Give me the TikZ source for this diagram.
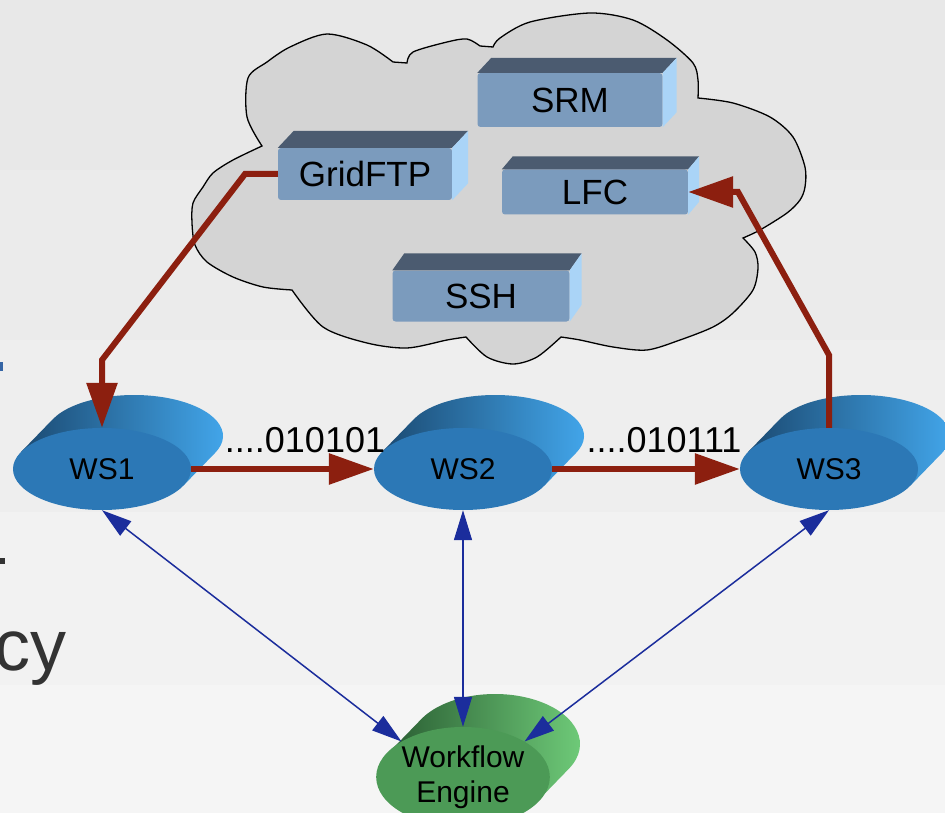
\documentclass[tikz,border=0pt]{standalone}
\usepackage{fontspec}
\setmainfont{Liberation Sans}
\usetikzlibrary{shapes.geometric,arrows.meta,calc}

\definecolor{stripea}{HTML}{E8E8E8}
\definecolor{stripeb}{HTML}{EBEBEB}
\definecolor{stripec}{HTML}{EEEEEE}
\definecolor{striped}{HTML}{F2F2F2}
\definecolor{stripee}{HTML}{F5F5F5}
\definecolor{cloudgray}{HTML}{D4D4D4}
\definecolor{slabfront}{HTML}{7B9BBD}
\definecolor{slabtop}{HTML}{4B5B70}
\definecolor{slabside}{HTML}{AAD4F7}
\definecolor{wsfront}{HTML}{2C78B6}
\definecolor{wsdark}{HTML}{1B4A72}
\definecolor{wslight}{HTML}{44AAF0}
\definecolor{wefront}{HTML}{4C9A56}
\definecolor{wedark}{HTML}{2A5E33}
\definecolor{welight}{HTML}{72D07C}
\definecolor{datared}{HTML}{8C1F0F}
\definecolor{callblue}{HTML}{1B2D9C}
\definecolor{slideblue}{HTML}{3565A5}
\definecolor{slidegray}{HTML}{333333}

% side of a drum: centre, x radius, y radius, dark colour, light colour
\newcommand{\drumside}[5]{%
  \pgfmathsetmacro{\tang}{atan((#3*32)/(#2*33))}%
  \shade [left color=#4, middle color=#4!75!#5, right color=#5]
    ($(#1)+(\tang+180:#2 and #3)$) -- ++(32,-33)
    arc [start angle=\tang+180, end angle=\tang+360, x radius=#2, y radius=#3]
    -- ($(#1)+(\tang:#2 and #3)$) -- cycle;
}

\begin{document}
\begin{tikzpicture}[x=1pt,y=-1pt,
  slab/.style={rectangle,rounded corners=3pt,fill=slabfront,inner sep=0pt,font=\fontsize{35}{40}\selectfont},
  drum/.style={ellipse,inner sep=0pt,font=\fontsize{30}{35}\selectfont},
  dataflow/.style={color=datared,line width=6pt,-{Triangle[length=45pt,width=30pt]}},
  control/.style={color=callblue,line width=1.5pt,{Triangle[length=30pt,width=18pt]}-{Triangle[length=30pt,width=18pt]}}]
% Page size
\useasboundingbox (0,0) rectangle (945,813);
\clip (0,0) rectangle (945,813);
% Draw background stripes
\fill [stripea] (0,0) rectangle (945,170);
\fill [stripeb] (0,170) rectangle (945,340);
\fill [stripec] (0,340) rectangle (945,512);
\fill [striped] (0,512) rectangle (945,685);
\fill [stripee] (0,685) rectangle (945,813);
% Bits of slide text at the left edge
\fill [slideblue] (0,362) rectangle (3,371);
\fill [slidegray] (0,558) rectangle (5,564);
\node [font=\fontsize{72}{80}\selectfont, text=slidegray, anchor=base east, inner sep=0pt] (cy) at (67,670) {cy};
% Draw cloud
\filldraw [fill=cloudgray, draw=black, line width=1.3pt]
  plot [smooth] coordinates {(262,146) (247,117) (248,78) (267,62) (290,47) (327,34) (367,45) (393,62)}
  -- plot [smooth] coordinates {(407,63) (413,52) (447,42) (467,39) (480,46)}
  -- plot [smooth] coordinates {(493,47) (500,38) (530,22) (590,13) (633,20) (667,40) (693,63) (698,80) (698,98)}
  -- plot [smooth] coordinates {(698,98) (733,103) (770,117) (793,137) (805,167) (805,187) (800,200) (787,213) (760,230) (743,238)}
  -- plot [smooth] coordinates {(743,238) (755,252) (758,268) (753,290) (733,313) (713,327) (680,340) (647,350) (613,347) (580,340) (561,337)}
  -- plot [smooth] coordinates {(561,337) (537,357) (513,364) (487,357) (466,337)}
  -- plot [smooth] coordinates {(466,337) (447,340) (407,348) (367,343) (323,327) (292,290)}
  -- plot [smooth] coordinates {(292,290) (263,287) (233,277) (207,262) (195,245) (192,223) (193,203) (203,187) (213,173) (233,160) (262,146)}
  -- cycle;
% Draw service slabs
\node [slab, minimum width=185pt, minimum height=54pt] (srm) at (570,100) {SRM};
\node [slab, minimum width=174pt, minimum height=52pt] (gridftp) at (365,174) {GridFTP};
\node [slab, minimum width=186pt, minimum height=45pt] (lfc) at (595,192) {LFC};
\node [slab, minimum width=177pt, minimum height=51pt] (ssh) at (481,296) {SSH};
\foreach \n/\dx/\dy in {srm/14/15,gridftp/16/17,lfc/11/13,ssh/12/17} {
  \fill [slabtop] (\n.north west) -- ++(\dx,-\dy) -- ($(\n.north east)+(\dx,-\dy)$) -- (\n.north east) -- cycle;
  \fill [slabside] (\n.north east) -- ++(\dx,-\dy) -- ($(\n.south east)+(\dx,-\dy)$) -- (\n.south east) -- cycle;
}
% Draw web services
\drumside{102,469}{89}{41}{wsdark}{wslight}
\node [drum, fill=wsfront, minimum width=178pt, minimum height=82pt] (ws1) at (102,469) {WS1};
\drumside{463,469}{89}{41}{wsdark}{wslight}
\node [drum, fill=wsfront, minimum width=178pt, minimum height=82pt] (ws2) at (463,469) {WS2};
\drumside{829,469}{89}{41}{wsdark}{wslight}
\node [drum, fill=wsfront, minimum width=178pt, minimum height=82pt] (ws3) at (829,469) {WS3};
% Draw workflow engine
\drumside{463,777}{85}{50}{wedark}{welight}
\node [drum, fill=wefront, minimum width=170pt, minimum height=100pt, align=center] (we) at (463,777) {Workflow\\Engine};
% Data transfers
\draw [dataflow] (gridftp.west) -- (245,174) -- (102,360) -- (ws1.north);
\draw [dataflow] (ws1.east) -- (ws2.west);
\draw [dataflow] (ws2.east) -- (ws3.west);
\draw [dataflow] (ws3.north) -- (829,355) -- (738,192) -- (lfc.east);
\node [font=\fontsize{36}{40}\selectfont, anchor=base, inner sep=0pt] (bits1) at (305,452) {....010101};
\node [font=\fontsize{36}{40}\selectfont, anchor=base, inner sep=0pt] (bits2) at (664,452) {....010111};
% Control links
\draw [control] (ws1.south) -- (we.150);
\draw [control] (ws2.south) -- (we.north);
\draw [control] (ws3.south) -- (we.30);
\end{tikzpicture}
\end{document}
